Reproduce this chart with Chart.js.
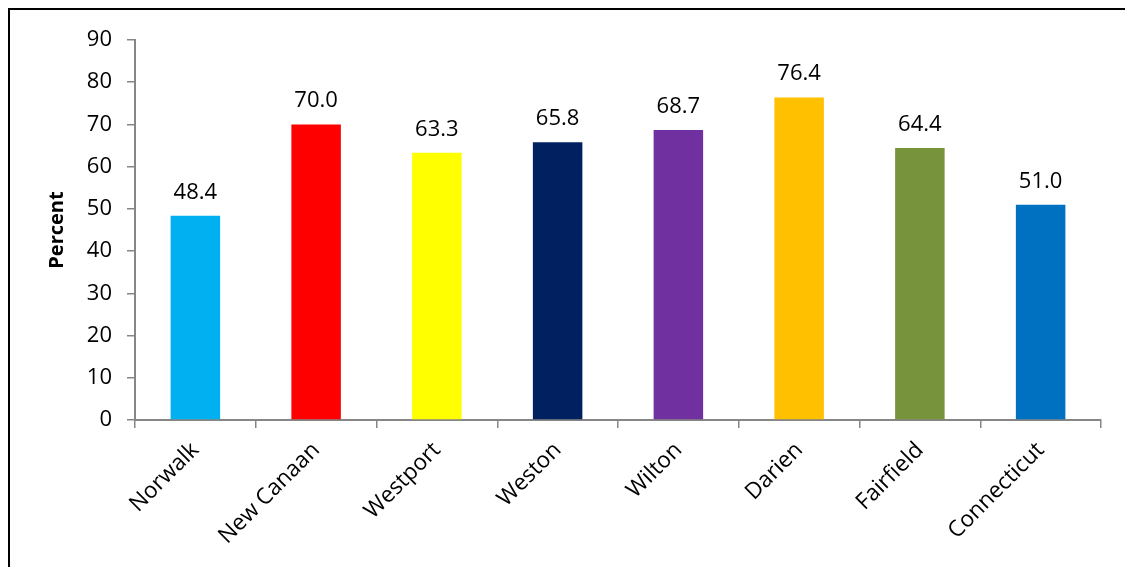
<!DOCTYPE html>
<html>
<head>
<meta charset="utf-8">
<script src="https://cdn.jsdelivr.net/npm/chart.js@4"></script>
<style>
  html, body { margin: 0; padding: 0; background: #fff; overflow: hidden; }
  #frame { position: absolute; left: 8px; top: 8px; width: 1140px; height: 580px; border: 2px solid #000; box-sizing: border-box; }
  #wrap { position: absolute; left: 0; top: 0; width: 1125px; height: 567px; }
</style>
</head>
<body>
<div id="frame"></div>
<div id="wrap"><canvas id="chart"></canvas></div>
<script>
// towns + state, percent
const towns = ['Norwalk', 'New Canaan', 'Westport', 'Weston', 'Wilton', 'Darien', 'Fairfield', 'Connecticut'];
const percents = [48.4, 70.0, 63.3, 65.8, 68.7, 76.4, 64.4, 51.0];
const barColors = ['#00B0F0', '#FF0000', '#FFFF00', '#002060', '#7030A0', '#FFC000', '#77933C', '#0070C0'];
const yTicks = [0, 10, 20, 30, 40, 50, 60, 70, 80, 90];

const font = "'Open Sans', 'Liberation Sans', sans-serif";
const axisGray = '#868686';

// value labels above the bars
const valueLabels = {
    id: 'valueLabels',
    afterDatasetsDraw(chart) {
        const ctx = chart.ctx;
        const meta = chart.getDatasetMeta(0);
        ctx.save();
        ctx.font = '22px ' + font;
        ctx.fillStyle = '#000';
        ctx.textAlign = 'center';
        ctx.textBaseline = 'alphabetic';
        meta.data.forEach((bar, i) => {
            ctx.fillText(percents[i].toFixed(1), bar.x, bar.y - 17);
        });
        ctx.restore();
    }
};

new Chart(document.getElementById('chart').getContext('2d'), {
    type: 'bar',
    data: {
        labels: towns,
        datasets: [{
            data: percents,
            backgroundColor: barColors,
            borderWidth: 0,
            categoryPercentage: 0.41,
            barPercentage: 1
        }]
    },
    options: {
        responsive: true,
        maintainAspectRatio: false,
        animation: false,
        layout: { padding: { left: 41, top: 40, right: 24, bottom: 0 } },
        plugins: {
            legend: { display: false },
            tooltip: { enabled: false }
        },
        scales: {
            x: {
                afterFit(axis) { axis.height = 147; },
                grid: { drawOnChartArea: false, drawTicks: true, tickLength: 8, color: axisGray, lineWidth: 1.5 },
                border: { color: axisGray, width: 2 },
                ticks: {
                    color: '#000',
                    font: { family: font, size: 22.5 },
                    minRotation: 45,
                    maxRotation: 45,
                    padding: 9
                }
            },
            y: {
                min: 0,
                max: 90,
                afterFit(axis) { axis.width = 135 - 41; },
                afterBuildTicks(axis) { axis.ticks = yTicks.map(v => ({ value: v })); },
                grid: { drawOnChartArea: false, drawTicks: true, tickLength: 8, color: axisGray, lineWidth: 1.5 },
                border: { color: axisGray, width: 2 },
                title: {
                    display: true,
                    text: 'Percent',
                    color: '#000',
                    font: { family: font, size: 20, weight: 'bold' },
                    padding: { top: 4, bottom: 4 }
                },
                ticks: {
                    color: '#000',
                    font: { family: font, size: 22 },
                    padding: 15
                }
            }
        }
    },
    plugins: [valueLabels]
});
</script>
</body>
</html>
